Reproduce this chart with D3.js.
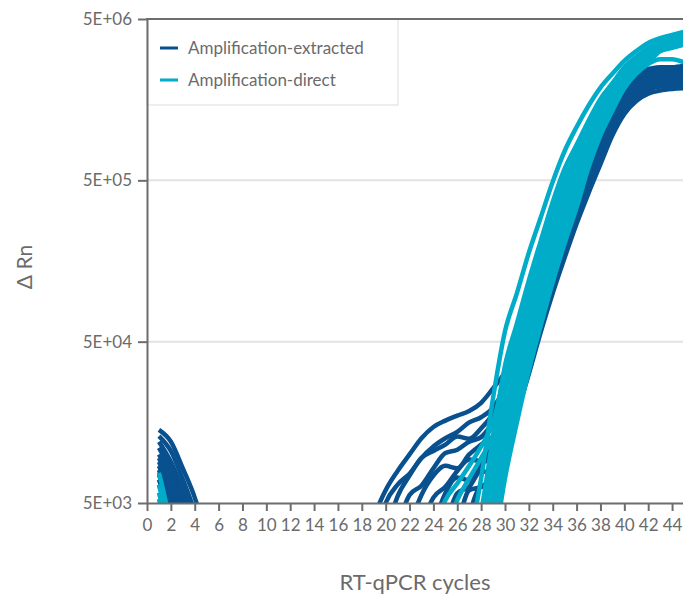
<!DOCTYPE html>
<html><head><meta charset="utf-8">
<script src="https://cdn.jsdelivr.net/npm/d3@7"></script>
<style>
body{margin:0;background:#fff;}
svg text{font-family:Lato,"Open Sans",sans-serif;fill:#6b6b6b;}
</style></head><body>
<svg id="chart" width="683" height="602"></svg>
<script>
// ---- data ----
const cycles = [1,2,3,4,5,6,7,8,9,10,11,12,13,14,15,16,17,18,19,20,21,22,23,24,25,26,27,28,29,30,31,32,33,34,35,36,37,38,39,40,41,42,43,44,45];
const xTicks = [0,2,4,6,8,10,12,14,16,18,20,22,24,26,28,30,32,34,36,38,40,42,44];
const yTicks = [5e3,5e4,5e5,5e6];
const yTickLabels = ["5E+03","5E+04","5E+05","5E+06"];
const seriesNames = ["Amplification-extracted","Amplification-direct"];
const seriesColors = ["#08508e","#00acc8"];

// Amplification-extracted (ΔRn per cycle 1..45)
const extracted1 = [1.42e4,1.2e4,8.2e3,5.4e3,3.0e3,1e3,1e3,1e3,1e3,1e3,1e3,1e3,1e3,1e3,1e3,1e3,1e3,2.0e3,4.0e3,6.0e3,7.9e3,1.0e4,1.26e4,1.48e4,1.62e4,1.74e4,1.86e4,2.09e4,2.57e4,3.24e4,4.68e4,7.6e4,1.29e5,2.11e5,3.5e5,5.75e5,9.3e5,1.41e6,1.86e6,2.19e6,2.37e6,2.45e6,2.51e6,2.51e6,2.57e6];
const extracted2 = [1.3e4,1.05e4,7.0e3,4.4e3,2.5e3,1e3,1e3,1e3,1e3,1e3,1e3,1e3,1e3,1e3,1e3,1e3,1e3,1.5e3,2.8e3,5.0e3,6.5e3,7.6e3,9.5e3,1.12e4,1.26e4,1.38e4,1.58e4,1.7e4,1.95e4,2.63e4,4.37e4,7.4e4,1.26e5,2.07e5,3.47e5,5.7e5,9.1e5,1.38e6,1.82e6,2.14e6,2.32e6,2.4e6,2.45e6,2.45e6,2.48e6];
const extracted3 = [1.2e4,9.0e3,6.0e3,3.8e3,2.2e3,1e3,1e3,1e3,1e3,1e3,1e3,1e3,1e3,1e3,1e3,1e3,1e3,1e3,1.6e3,3.2e3,5.5e3,7.4e3,9.5e3,1.05e4,1.15e4,1.29e4,1.25e4,1.45e4,1.78e4,2.29e4,3.67e4,6.6e4,1.14e5,1.86e5,3.09e5,5.0e5,7.9e5,1.22e6,1.66e6,2.0e6,2.19e6,2.29e6,2.32e6,2.34e6,2.38e6];
const extracted4 = [1.1e4,8.0e3,5.2e3,3.2e3,2.0e3,1e3,1e3,1e3,1e3,1e3,1e3,1e3,1e3,1e3,1e3,1e3,1e3,1e3,1e3,1.8e3,3.55e3,5.6e3,6.4e3,8.2e3,1.02e4,1.07e4,1.2e4,1.28e4,1.58e4,2.09e4,3.47e4,6.3e4,1.1e5,1.82e5,3.09e5,4.95e5,7.85e5,1.2e6,1.62e6,1.95e6,2.14e6,2.24e6,2.27e6,2.29e6,2.32e6];
const extracted5 = [1.0e4,7.2e3,4.5e3,2.8e3,1.8e3,1e3,1e3,1e3,1e3,1e3,1e3,1e3,1e3,1e3,1e3,1e3,1e3,1e3,1e3,1e3,1.8e3,3.55e3,5.6e3,7.4e3,8.5e3,8.2e3,1.0e4,1.15e4,1.3e4,1.82e4,3.16e4,5.75e4,1.0e5,1.66e5,2.69e5,4.37e5,6.9e5,1.1e6,1.51e6,1.86e6,2.07e6,2.16e6,2.21e6,2.24e6,2.26e6];
const extracted6 = [9.5e3,6.5e3,4.0e3,2.5e3,1.5e3,1e3,1e3,1e3,1e3,1e3,1e3,1e3,1e3,1e3,1e3,1e3,1e3,1e3,1e3,1e3,1e3,1.8e3,3.55e3,5.4e3,6.3e3,7.9e3,9.3e3,9.1e3,1.15e4,1.78e4,3.02e4,5.5e4,9.5e4,1.62e5,2.69e5,4.37e5,6.8e5,1.07e6,1.48e6,1.82e6,2.02e6,2.11e6,2.16e6,2.19e6,2.21e6];
const extracted7 = [9.0e3,6.0e3,3.5e3,2.0e3,1.2e3,1e3,1e3,1e3,1e3,1e3,1e3,1e3,1e3,1e3,1e3,1e3,1e3,1e3,1e3,1e3,1e3,1e3,1.8e3,3.55e3,5.75e3,7.2e3,6.9e3,8.7e3,9.8e3,1.5e4,2.75e4,4.95e4,8.7e4,1.46e5,2.4e5,3.8e5,6.0e5,9.4e5,1.35e6,1.7e6,1.9e6,2.04e6,2.09e6,2.14e6,2.16e6];
const extracted8 = [8.5e3,5.5e3,3.2e3,1.8e3,1.1e3,1e3,1e3,1e3,1e3,1e3,1e3,1e3,1e3,1e3,1e3,1e3,1e3,1e3,1e3,1e3,1e3,1e3,1e3,1.8e3,3.55e3,5.75e3,6.3e3,7.9e3,7.6e3,1.45e4,2.69e4,4.9e4,8.5e4,1.45e5,2.37e5,3.8e5,5.96e5,9.3e5,1.32e6,1.66e6,1.86e6,2.0e6,2.04e6,2.09e6,2.11e6];
const extracted9 = [8.0e3,5.0e3,3.0e3,1.6e3,1.0e3,1e3,1e3,1e3,1e3,1e3,1e3,1e3,1e3,1e3,1e3,1e3,1e3,1e3,1e3,1e3,1e3,1e3,1e3,1e3,1.8e3,3.55e3,6.0e3,6.3e3,7.6e3,1.26e4,2.37e4,4.27e4,7.6e4,1.29e5,2.11e5,3.39e5,5.3e5,8.2e5,1.2e6,1.55e6,1.78e6,1.93e6,2.0e6,2.04e6,2.04e6];
const extracted10 = [7.5e3,4.5e3,2.8e3,1.5e3,1.0e3,1e3,1e3,1e3,1e3,1e3,1e3,1e3,1e3,1e3,1e3,1e3,1e3,1e3,1e3,1e3,1e3,1e3,1e3,1e3,1e3,2.0e3,4.2e3,6.3e3,6.4e3,1.2e4,2.29e4,4.17e4,7.4e4,1.26e5,2.09e5,3.39e5,5.25e5,8.1e5,1.17e6,1.51e6,1.74e6,1.88e6,1.95e6,2.0e6,2.0e6];
const extracted11 = [7.0e3,4.2e3,2.5e3,1.4e3,1.0e3,1e3,1e3,1e3,1e3,1e3,1e3,1e3,1e3,1e3,1e3,1e3,1e3,1e3,1e3,1e3,1e3,1e3,1e3,1e3,1e3,1e3,2.0e3,4.0e3,5.6e3,1.06e4,2.04e4,3.67e4,6.6e4,1.14e5,1.86e5,3.02e5,4.68e5,7.2e5,1.06e6,1.41e6,1.66e6,1.82e6,1.91e6,1.93e6,1.95e6];
const extracted12 = [6.5e3,4.0e3,2.2e3,1.3e3,1.0e3,1e3,1e3,1e3,1e3,1e3,1e3,1e3,1e3,1e3,1e3,1e3,1e3,1e3,1e3,1e3,1e3,1e3,1e3,1e3,1e3,1e3,1e3,1.58e3,4.0e3,8.9e3,1.78e4,3.16e4,5.75e4,1.0e5,1.66e5,2.69e5,4.17e5,6.3e5,9.5e5,1.29e6,1.55e6,1.72e6,1.8e6,1.84e6,1.86e6];

// Amplification-direct (ΔRn per cycle 1..45)
const direct1 = [7.7e3,3.5e3,1e3,1e3,1e3,1e3,1e3,1e3,1e3,1e3,1e3,1e3,1e3,1e3,1e3,1e3,1e3,1e3,1e3,1e3,1e3,1e3,1e3,1e3,1e3,1.2e3,2.8e3,7.1e3,2.24e4,5.8e4,1.0e5,1.78e5,2.95e5,4.9e5,7.6e5,1.07e6,1.45e6,1.88e6,2.29e6,2.75e6,3.16e6,3.55e6,3.8e6,3.98e6,4.17e6];
const direct2 = [6.5e3,3.0e3,1e3,1e3,1e3,1e3,1e3,1e3,1e3,1e3,1e3,1e3,1e3,1e3,1e3,1e3,1e3,1e3,1e3,1e3,1e3,1e3,1e3,1e3,1e3,1e3,2.0e3,4.4e3,1.29e4,3.55e4,6.5e4,1.2e5,2.11e5,3.67e5,5.9e5,8.3e5,1.17e6,1.6e6,2.0e6,2.51e6,2.92e6,3.31e6,3.63e6,3.8e6,3.98e6];
const direct3 = [5.8e3,2.8e3,1e3,1e3,1e3,1e3,1e3,1e3,1e3,1e3,1e3,1e3,1e3,1e3,1e3,1e3,1e3,1e3,1e3,1e3,1e3,1e3,1e3,1e3,1e3,1e3,1.4e3,3.2e3,9.3e3,2.57e4,4.9e4,9.3e4,1.66e5,2.95e5,4.79e5,6.9e5,1.02e6,1.45e6,1.86e6,2.34e6,2.75e6,3.16e6,3.47e6,3.63e6,3.8e6];
const direct4 = [5.3e3,2.5e3,1e3,1e3,1e3,1e3,1e3,1e3,1e3,1e3,1e3,1e3,1e3,1e3,1e3,1e3,1e3,1e3,1e3,1e3,1e3,1e3,1e3,1e3,1e3,1e3,1e3,2.7e3,7.5e3,2.07e4,4.07e4,7.85e4,1.41e5,2.51e5,4.12e5,6.17e5,9.4e5,1.35e6,1.76e6,2.26e6,2.69e6,3.05e6,3.43e6,3.59e6,3.76e6];
const direct5 = [4.5e3,2.2e3,1e3,1e3,1e3,1e3,1e3,1e3,1e3,1e3,1e3,1e3,1e3,1e3,1e3,1e3,1e3,1e3,1e3,1e3,1e3,1e3,1e3,1e3,1e3,1e3,1e3,2.2e3,6.0e3,1.66e4,3.39e4,6.6e4,1.2e5,2.14e5,3.55e5,5.5e5,8.7e5,1.26e6,1.66e6,2.19e6,2.63e6,2.95e6,3.39e6,3.55e6,3.72e6];
const direct6 = [4.5e3,2.0e3,1e3,1e3,1e3,1e3,1e3,1e3,1e3,1e3,1e3,1e3,1e3,1e3,1e3,1e3,1e3,1e3,1e3,1e3,1e3,1e3,1e3,1e3,1e3,1e3,1e3,1.8e3,4.8e3,1.35e4,2.82e4,5.6e4,1.02e5,1.86e5,3.09e5,4.9e5,7.9e5,1.17e6,1.58e6,2.09e6,2.51e6,2.88e6,3.31e6,3.47e6,3.63e6];
const direct7 = [4.2e3,2.0e3,1e3,1e3,1e3,1e3,1e3,1e3,1e3,1e3,1e3,1e3,1e3,1e3,1e3,1e3,1e3,1e3,1e3,1e3,1e3,1e3,1e3,1e3,1e3,1e3,1e3,1.5e3,3.9e3,1.1e4,2.29e4,4.68e4,8.7e4,1.58e5,2.69e5,4.27e5,7.2e5,1.1e6,1.51e6,2.0e6,2.45e6,2.82e6,3.24e6,3.39e6,3.55e6];
const direct8 = [4.0e3,1.8e3,1e3,1e3,1e3,1e3,1e3,1e3,1e3,1e3,1e3,1e3,1e3,1e3,1e3,1e3,1e3,1e3,1e3,1e3,1e3,1e3,1e3,1e3,1e3,1e3,1e3,1.2e3,3.1e3,8.7e3,1.9e4,3.9e4,7.4e4,1.38e5,2.34e5,3.8e5,6.6e5,1.02e6,1.41e6,1.95e6,2.34e6,2.69e6,3.16e6,3.31e6,3.47e6];
const direct9 = [4.0e3,1.8e3,1e3,1e3,1e3,1e3,1e3,1e3,1e3,1e3,1e3,1e3,1e3,1e3,1e3,1e3,1e3,1e3,1e3,1e3,1e3,1e3,1e3,1e3,1e3,1e3,1e3,1e3,2.5e3,7.1e3,1.58e4,3.31e4,6.3e4,1.17e5,2.04e5,3.39e5,6.0e5,9.5e5,1.35e6,1.86e6,2.29e6,2.63e6,2.82e6,2.82e6,2.69e6];
const direct10 = [4.0e3,1.8e3,1e3,1e3,1e3,1e3,1e3,1e3,1e3,1e3,1e3,1e3,1e3,1e3,1e3,1e3,1e3,1e3,1e3,1e3,1e3,1e3,1.6e3,3.2e3,5.2e3,6.6e3,8.5e3,1.12e4,1.58e4,3.16e4,5.4e4,1.02e5,1.8e5,3.16e5,5.1e5,7.4e5,1.07e6,1.5e6,1.9e6,2.4e6,2.82e6,3.2e6,3.55e6,3.72e6,3.89e6];
const direct11 = [4.0e3,1.8e3,1e3,1e3,1e3,1e3,1e3,1e3,1e3,1e3,1e3,1e3,1e3,1e3,1e3,1e3,1e3,1e3,1e3,1e3,1e3,1e3,1e3,1.6e3,3.2e3,5.2e3,7.1e3,9.5e3,1.32e4,2.4e4,3.7e4,7.2e4,1.3e5,2.34e5,3.85e5,5.8e5,9.0e5,1.3e6,1.72e6,2.21e6,2.63e6,3.02e6,3.39e6,3.55e6,3.72e6];

const extractedCurves = [extracted1,extracted2,extracted3,extracted4,extracted5,extracted6,extracted7,extracted8,extracted9,extracted10,extracted11,extracted12];
const directCurves = [direct1,direct2,direct3,direct4,direct5,direct6,direct7,direct8,direct9,direct10,direct11];

// ---- chart ----
const svg = d3.select("#chart");
const L = 147, R = 684, T = 19, B = 503;
const x = d3.scaleLinear().domain([0,45]).range([L,R]);
const y = d3.scaleLog().domain([5e3,5e6]).range([B,T]);
const axisColor = "#6d6d6d";

svg.append("defs").append("clipPath").attr("id","plotclip")
  .append("rect").attr("x",L).attr("y",T).attr("width",R-L).attr("height",B-T);

// grid
svg.append("g").selectAll("line").data(yTicks.slice(1,3)).join("line")
  .attr("x1",L).attr("x2",R).attr("y1",d=>y(d)).attr("y2",d=>y(d))
  .attr("stroke","#e2e2e2").attr("stroke-width",2);

// curves
const line = d3.line().x((d,i)=>x(cycles[i])).y(d=>y(d)).curve(d3.curveMonotoneX);
const plot = svg.append("g").attr("clip-path","url(#plotclip)");
plot.selectAll("path.ext").data(extractedCurves).join("path").attr("class","ext")
  .attr("d",line).attr("fill","none").attr("stroke",seriesColors[0])
  .attr("stroke-width",4.5).attr("stroke-linejoin","round");
plot.selectAll("path.dir").data(directCurves).join("path").attr("class","dir")
  .attr("d",line).attr("fill","none").attr("stroke",seriesColors[1])
  .attr("stroke-width",4.5).attr("stroke-linejoin","round");

// legend
const lg = svg.append("g");
lg.append("rect").attr("x",L).attr("y",T).attr("width",251).attr("height",86)
  .attr("fill","#fff").attr("stroke","#dddddd").attr("stroke-width",1);
seriesNames.forEach((n,i)=>{
  const yy = 48 + i*32;
  lg.append("line").attr("x1",160).attr("x2",178).attr("y1",yy).attr("y2",yy)
    .attr("stroke",seriesColors[i]).attr("stroke-width",3);
  lg.append("text").attr("x",188).attr("y",yy).attr("dy","0.35em")
    .style("font-size","17px").text(n);
});

// axes
const yAxis = d3.axisLeft(y).tickValues(yTicks).tickFormat((d,i)=>yTickLabels[i])
  .tickSize(9).tickSizeOuter(0).tickPadding(6);
const gy = svg.append("g").attr("transform",`translate(${L},0)`).call(yAxis);
const xAxis = d3.axisBottom(x).tickValues(xTicks).tickSize(8).tickSizeOuter(0).tickPadding(8);
const gx = svg.append("g").attr("transform",`translate(0,${B})`).call(xAxis);
[gx,gy].forEach(g=>{
  g.select(".domain").attr("stroke",axisColor).attr("stroke-width",2);
  g.selectAll(".tick line").attr("stroke",axisColor).attr("stroke-width",2);
  g.selectAll(".tick text").attr("fill","#6b6b6b").style("font-size","17px")
    .style("font-family","Lato, 'Open Sans', sans-serif");
});
svg.append("line").attr("x1",L-1).attr("x2",R).attr("y1",T).attr("y2",T)
  .attr("stroke",axisColor).attr("stroke-width",2);

// titles
svg.append("text").attr("transform","translate(25,267) rotate(-90)")
  .attr("text-anchor","middle").attr("dy","0.35em").style("font-size","21px").text("\u0394 Rn");
svg.append("text").attr("x",415).attr("y",582).attr("text-anchor","middle")
  .attr("dy","0.35em").style("font-size","22px").text("RT-qPCR cycles");
</script>
</body></html>
